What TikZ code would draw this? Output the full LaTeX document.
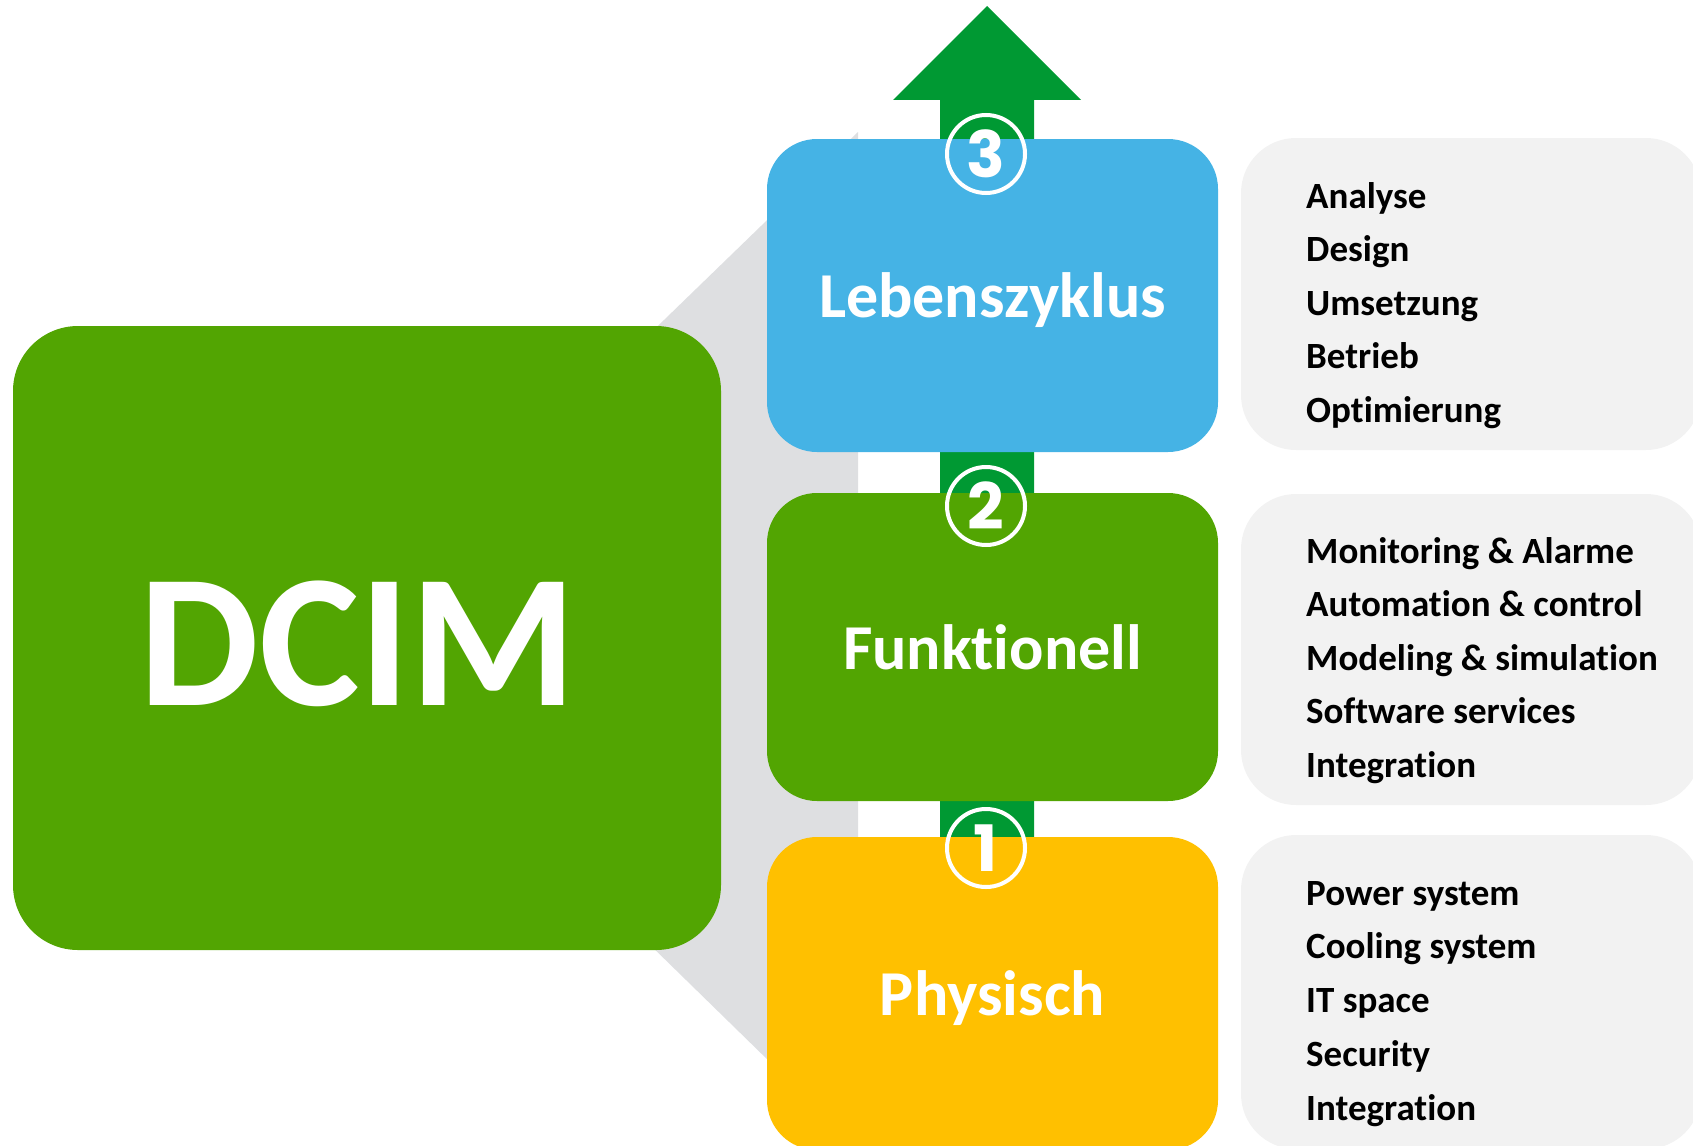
\documentclass[tikz,border=0pt]{standalone}
\usepackage{fontspec}
\setmainfont{Carlito}[Ligatures=NoCommon]
\newfontfamily\numfont{Poppins}
\definecolor{dcimgreen}{RGB}{82,165,2}
\definecolor{lifeblue}{RGB}{69,179,229}
\definecolor{physyellow}{RGB}{255,192,0}
\definecolor{listgray}{RGB}{242,242,242}
\definecolor{shadowgray}{RGB}{222,223,225}
\definecolor{arrowgreen}{RGB}{0,153,51}
\begin{document}
\begin{tikzpicture}[x=1pt,y=-1pt,
  layerbox/.style={rectangle, rounded corners=50pt, inner sep=0pt, minimum width=451pt,
    text=white, text depth=0pt, font=\bfseries\fontsize{64}{64}\selectfont},
  listbox/.style={rectangle, rounded corners=55pt, fill=listgray, inner sep=0pt, minimum width=460pt},
  item/.style={anchor=base west, inner sep=0pt, text=black, font=\bfseries\fontsize{37}{37}\selectfont},
  numring/.style={circle, draw=white, line width=4pt, minimum size=78pt, inner sep=0pt,
    text=white, font=\numfont\bfseries\fontsize{64}{64}\selectfont}]
\useasboundingbox (0,0) rectangle (1693,1145);
% shadow connecting DCIM to the layers
\fill[shadowgray] (600,382) -- (858,132) -- (858,1148) -- (600,896) -- cycle;
% upward arrow
\coordinate (tip) at (987,6);
\fill[arrowgreen] (tip) -- (1081,100) -- (1034,100) -- (1034,870) -- (940,870) -- (940,100) -- (893,100) -- cycle;
% list boxes
\node[listbox, minimum height=312pt] (g3) at (1471,294) {};
\node[listbox, minimum height=311pt] (g2) at (1471,649.5) {};
\node[listbox, minimum height=314pt] (g1) at (1471,992) {};
% DCIM box
\node[rectangle, rounded corners=65pt, fill=dcimgreen, minimum width=708pt, minimum height=624pt,
  inner sep=0pt] (dcim) at (367,638) {};
\node[inner sep=0pt, text=white, font=\bfseries\fontsize{190}{190}\selectfont]
  (dcimtext) at ([xshift=-9pt,yshift=-6pt]dcim.center) {DCIM};
% layer boxes
\node[layerbox, fill=lifeblue, minimum height=313pt] (life) at (992.5,295.5) {Lebenszyklus};
\node[layerbox, fill=dcimgreen, minimum height=308pt] (func) at (992.5,647) {Funktionell};
\node[layerbox, fill=physyellow, minimum height=313pt] (phys) at (992.5,993.5) {Physisch};
% numbered rings
\node[numring] (n3) at (986,154) {3};
\node[numring] (n2) at (986,506) {2};
\node[numring] (n1) at (986,848) {1};
% lists
\foreach \t [count=\i] in {Analyse,Design,Umsetzung,Betrieb,Optimierung}
  \node[item] (la\i) at (1306,{208+53.5*(\i-1)}) {\t};
\foreach \t [count=\i] in {Monitoring \& Alarme,Automation \& control,Modeling \& simulation,Software services,Integration}
  \node[item] (lb\i) at (1306,{563+53.5*(\i-1)}) {\t};
\foreach \t [count=\i] in {Power system,Cooling system,IT space,Security,Integration}
  \node[item] (lc\i) at (1306,{905+53.75*(\i-1)}) {\t};
\end{tikzpicture}
\end{document}
